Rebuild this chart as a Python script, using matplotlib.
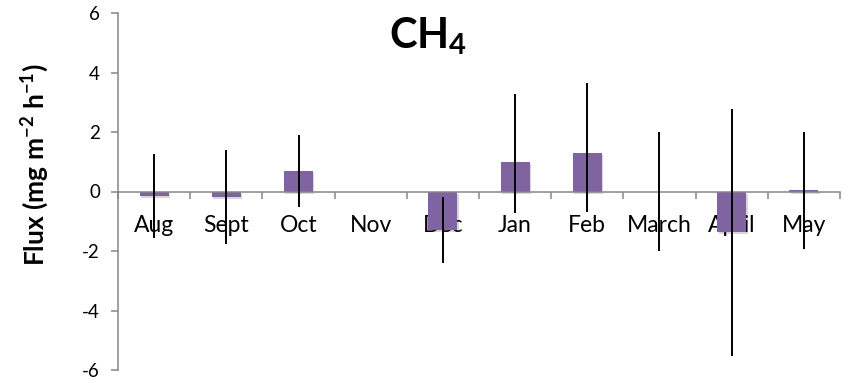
import matplotlib.pyplot as plt
import matplotlib.patheffects as pe
import numpy as np

# monthly CH4 flux, means and error bar ends
months = ['Aug', 'Sept', 'Oct', 'Nov', 'Dec', 'Jan', 'Feb', 'March', 'April', 'May']
flux = [-0.15, -0.17, 0.69, 0.0, -1.30, 1.00, 1.30, 0.0, -1.37, 0.05]
err_low = [1.40, 1.58, 1.22, 0.0, 1.10, 1.72, 2.00, 2.00, 4.15, 1.97]
err_high = [1.40, 1.58, 1.22, 0.0, 1.10, 2.29, 2.35, 2.00, 4.15, 1.95]

purple = '#8064A2'
grey = '#868686'

plt.rcParams['font.family'] = ['Lato', 'DejaVu Sans']
plt.rcParams['axes.unicode_minus'] = False
plt.rcParams['mathtext.fontset'] = 'custom'
plt.rcParams['mathtext.bf'] = 'Lato:bold'
plt.rcParams['mathtext.rm'] = 'Lato'
plt.rcParams['mathtext.default'] = 'bf'

fig = plt.figure(figsize=(8.5, 3.83), dpi=100)
ax = fig.add_axes([118 / 850, 13 / 383, 722 / 850, 357 / 383])

x = np.arange(len(months))
bars = ax.bar(x, flux, width=0.4, color=purple, zorder=2)
for b in bars:
    b.set_path_effects([pe.SimplePatchShadow(offset=(1, -1.5), alpha=0.18), pe.Normal()])

ax.errorbar(x, flux, yerr=[err_low, err_high], fmt='none', ecolor='black',
            elinewidth=1.4, capsize=0, zorder=3)

ax.set_xlim(-0.5, len(months) - 0.5)
ax.set_ylim(-6, 6)
ax.set_yticks(np.arange(-6, 7, 2))

ax.spines['top'].set_visible(False)
ax.spines['right'].set_visible(False)
ax.spines['bottom'].set_position(('data', 0))
for s in ('left', 'bottom'):
    ax.spines[s].set_color(grey)
    ax.spines[s].set_linewidth(1.1)

ax.set_xticks(x)
ax.set_xticklabels(months, fontsize=16.5)
ax.set_xticks(np.arange(-0.5, len(months), 1), minor=True)
ax.tick_params(axis='x', which='major', length=0, pad=17)
ax.tick_params(axis='x', which='minor', length=5, color=grey, width=1.1, direction='out')
ax.tick_params(axis='y', length=5, color=grey, width=1.1, labelsize=13.5, pad=8)

ax.set_ylabel('Flux (mg m$^{-2}$ h$^{-1}$)', fontsize=19, fontweight='bold')
ax.yaxis.set_label_coords(-0.093, 0.574)

ax.text(0.43, 0.935, 'CH$_4$', transform=ax.transAxes, ha='center', va='center',
        fontsize=30, fontweight='bold')

fig.savefig('out.png', dpi=100)
